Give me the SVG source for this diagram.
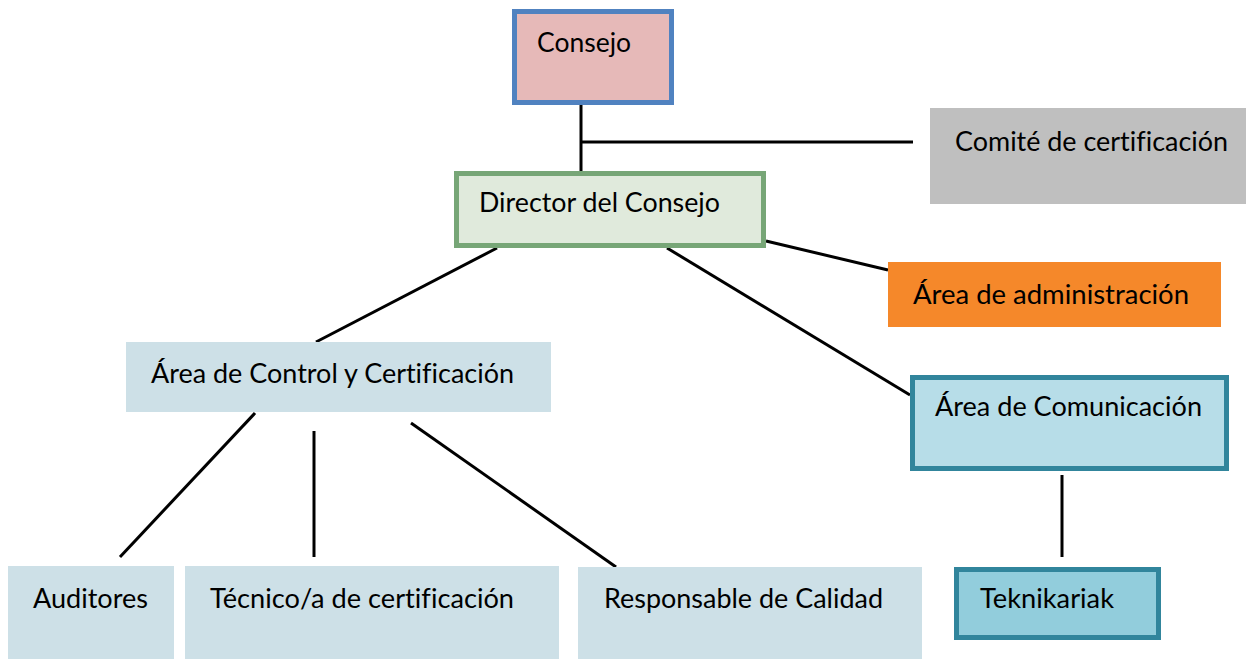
<svg xmlns="http://www.w3.org/2000/svg" width="1246" height="659" viewBox="0 0 1246 659">
<style>
text{font-family:Lato,"Open Sans","Liberation Sans",sans-serif;font-size:27px;fill:#000;font-variant-ligatures:none}
.ln{stroke:#000;stroke-width:3;fill:none}
.pale{fill:#CDE0E7}
.teal{stroke:#31859C;stroke-width:5}
</style>
<rect width="1246" height="659" fill="#fff"/>
<g id="connectors">
<line class="ln" x1="581" y1="105" x2="581" y2="172"/>
<line class="ln" x1="581" y1="142" x2="913" y2="142"/>
<line class="ln" x1="766" y1="241" x2="888" y2="270"/>
<line class="ln" x1="667" y1="248" x2="910" y2="395"/>
<line class="ln" x1="497" y1="248" x2="316" y2="342"/>
<line class="ln" x1="255" y1="413" x2="120" y2="557"/>
<line class="ln" x1="314" y1="431" x2="314" y2="557"/>
<line class="ln" x1="411" y1="423" x2="616" y2="567"/>
<line class="ln" x1="1062" y1="475" x2="1062" y2="557"/>
</g>
<g id="consejo">
<rect x="514.5" y="11.5" width="157" height="91" fill="#E6B9B8" stroke="#5082C0" stroke-width="5"/>
<text x="537" y="52" textLength="94" lengthAdjust="spacingAndGlyphs">Consejo</text>
</g>
<g id="comite">
<rect x="930" y="108" width="316" height="96" fill="#BFBFBF"/>
<text x="955" y="151" textLength="273" lengthAdjust="spacingAndGlyphs">Comité de certificación</text>
</g>
<g id="director">
<rect x="456.5" y="173.5" width="307" height="72" fill="#E0EADC" stroke="#77A677" stroke-width="5"/>
<text x="479" y="212" textLength="241" lengthAdjust="spacingAndGlyphs">Director del Consejo</text>
</g>
<g id="administracion">
<rect x="888" y="262" width="333" height="65" fill="#F5882A"/>
<text x="913" y="304" textLength="276" lengthAdjust="spacingAndGlyphs">Área de administración</text>
</g>
<g id="control">
<rect class="pale" x="126" y="342" width="425" height="70"/>
<text x="151" y="383" textLength="363" lengthAdjust="spacingAndGlyphs">Área de Control y Certificación</text>
</g>
<g id="comunicacion">
<rect class="teal" x="912.5" y="377.5" width="314" height="91" fill="#B7DDE8"/>
<text x="935" y="416" textLength="267" lengthAdjust="spacingAndGlyphs">Área de Comunicación</text>
</g>
<g id="auditores">
<rect class="pale" x="8" y="566" width="166" height="93"/>
<text x="33" y="608" textLength="115" lengthAdjust="spacingAndGlyphs">Auditores</text>
</g>
<g id="tecnico">
<rect class="pale" x="185" y="566" width="374" height="93"/>
<text x="210" y="608" textLength="304" lengthAdjust="spacingAndGlyphs">Técnico/a de certificación</text>
</g>
<g id="responsable">
<rect class="pale" x="578" y="567" width="344" height="92"/>
<text x="604" y="608" textLength="279" lengthAdjust="spacingAndGlyphs">Responsable de Calidad</text>
</g>
<g id="teknikariak">
<rect class="teal" x="956.5" y="569.5" width="202" height="68" fill="#92CDDC"/>
<text x="980" y="608" textLength="134" lengthAdjust="spacingAndGlyphs">Teknikariak</text>
</g>
</svg>
